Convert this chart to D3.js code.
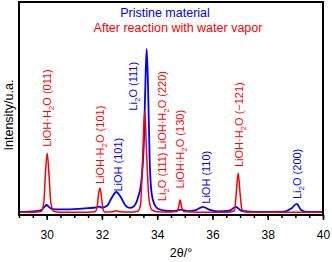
<!DOCTYPE html>
<html>
<head>
<meta charset="utf-8">
<script src="https://cdn.jsdelivr.net/npm/d3@7"></script>
<style>
  body { margin: 0; background: #fff; }
  text { font-family: "Liberation Sans", Arial, sans-serif; }
</style>
</head>
<body>
<div id="container"></div>
<script>
// 2theta / intensity (arbitrary units, 0..100 = plot height)
const redX = [29.0, 29.5, 29.8, 29.9, 29.95, 30.02, 30.09, 30.15, 30.25, 30.5, 31.0, 31.5, 31.75, 31.83, 31.88, 31.93, 31.98, 32.03, 32.1, 32.4, 32.52, 32.65, 33.0, 33.3, 33.4, 33.47, 33.55, 33.62, 33.7, 33.8, 34.0, 34.5, 34.72, 34.78, 34.83, 34.88, 34.95, 35.5, 36.5, 36.8, 36.86, 36.93, 37.0, 37.07, 37.2, 38.0, 39.0, 40.0];
const redY = [1.3, 1.3, 1.6, 6, 18, 29, 18, 6, 1.8, 1.3, 1.3, 1.3, 1.5, 4, 10, 12.7, 9, 3.5, 1.4, 1.5, 2.0, 1.5, 1.4, 1.8, 5, 25, 49, 28, 8, 2.5, 1.5, 1.4, 1.6, 4, 7, 4, 1.6, 1.3, 1.3, 2.0, 10, 19.7, 10, 2.5, 1.4, 1.3, 1.3, 1.3];

const blueX = [29.0, 29.5, 29.8, 29.92, 30.0, 30.08, 30.2, 30.5, 31.0, 31.5, 31.8, 31.9, 32.0, 32.2, 32.35, 32.52, 32.7, 32.85, 33.0, 33.15, 33.3, 33.42, 33.52, 33.58, 33.62, 33.67, 33.73, 33.8, 33.9, 34.05, 34.3, 34.6, 34.85, 35.1, 35.4, 35.65, 35.9, 36.2, 36.6, 36.85, 37.05, 37.5, 38.0, 38.6, 38.85, 39.05, 39.2, 39.4, 40.0];
const blueY = [1.4, 1.7, 2.3, 3.8, 4.7, 3.8, 2.8, 2.6, 2.8, 3.2, 3.6, 3.9, 3.5, 4.5, 8, 10.8, 8, 4.5, 3.3, 4, 8, 15, 35, 65, 78, 60, 25, 10, 5, 2.8, 2.0, 1.8, 2.5, 1.8, 2.3, 3.8, 2.4, 1.7, 2.0, 3.8, 2.0, 1.5, 1.4, 1.6, 3, 5.2, 2.5, 1.5, 1.4];

const xTicks = [30, 32, 34, 36, 38, 40];

// peak labels: [position, top of text (intensity), colour, parts]  parts: [text, isSubscript]
const peakLabels = [
  { x: 30.02, y: 32, c: "red", parts: [["LiOH·H", 0], ["2", 1], ["O (011)", 0]] },
  { x: 31.93, y: 14.5, c: "red", parts: [["LiOH·H", 0], ["2", 1], ["O (101)", 0]] },
  { x: 32.58, y: 11, c: "blue", parts: [["LiOH (101)", 0]] },
  { x: 33.12, y: 49, c: "blue", parts: [["Li", 0], ["2", 1], ["O (111)", 0]] },
  { x: 34.18, y: 6.5, c: "red", parts: [["Li", 0], ["2", 1], ["O (111) LiOH·H", 0], ["2", 1], ["O (220)", 0]] },
  { x: 34.83, y: 12.5, c: "red", parts: [["LiOH·H", 0], ["2", 1], ["O (130)", 0]] },
  { x: 35.75, y: 5.3, c: "blue", parts: [["LiOH (110)", 0]] },
  { x: 36.95, y: 22.5, c: "red", parts: [["LiOH·H", 0], ["2", 1], ["O (\u2212121)", 0]] },
  { x: 39.05, y: 7.5, c: "blue", parts: [["Li", 0], ["2", 1], ["O (200)", 0]] }
];

const width = 332, height = 262;
const margin = { top: 2, right: 9, bottom: 47, left: 19 };

const svg = d3.select("#container")
  .append("svg")
  .attr("width", width)
  .attr("height", height);

const xScale = d3.scaleLinear().domain([29, 40]).range([margin.left, width - margin.right]);
const yScale = d3.scaleLinear().domain([0, 100]).range([height - margin.bottom, margin.top]);

// minor ticks every 0.5
svg.append("g")
  .attr("transform", `translate(0, ${height - margin.bottom})`)
  .call(d3.axisBottom(xScale).tickValues(d3.range(29, 40.01, 0.5)).tickSize(3).tickFormat(""))
  .call(g => g.select(".domain").remove())
  .call(g => g.selectAll("line").attr("stroke-width", 1.5));

// major ticks + labels
svg.append("g")
  .attr("transform", `translate(0, ${height - margin.bottom})`)
  .call(d3.axisBottom(xScale).tickValues(xTicks).tickSize(5).tickPadding(10))
  .call(g => g.select(".domain").remove())
  .call(g => g.selectAll("line").attr("stroke-width", 1.5))
  .call(g => g.selectAll("text").style("font-size", "12px").style("font-family", "Liberation Sans, Arial, sans-serif"));

const line = d3.line()
  .x(d => xScale(d[0]))
  .y(d => yScale(d[1]))
  .curve(d3.curveMonotoneX);

const clip = svg.append("clipPath").attr("id", "plotclip")
  .append("rect")
  .attr("x", margin.left).attr("y", margin.top)
  .attr("width", width - margin.left - margin.right)
  .attr("height", height - margin.top - margin.bottom);

const plot = svg.append("g").attr("clip-path", "url(#plotclip)");

plot.append("path")
  .datum(d3.zip(blueX, blueY))
  .attr("fill", "none")
  .attr("stroke", "#0000ff")
  .attr("stroke-width", 1.8)
  .attr("d", line);

plot.append("path")
  .datum(d3.zip(redX, redY))
  .attr("fill", "none")
  .attr("stroke", "#ff0000")
  .attr("stroke-width", 1.5)
  .attr("d", line);

// frame
svg.append("rect")
  .attr("x", margin.left)
  .attr("y", margin.top)
  .attr("width", width - margin.left - margin.right)
  .attr("height", height - margin.top - margin.bottom)
  .attr("fill", "none")
  .attr("stroke", "#000")
  .attr("stroke-width", 2);

// rotated peak labels: text starts just above the peak and runs upward
peakLabels.forEach(lab => {
  const px = xScale(lab.x) + 4, py = yScale(lab.y);
  const t = svg.append("text")
    .attr("transform", `translate(${px}, ${py}) rotate(-90)`)
    .attr("fill", lab.c)
    .style("font-size", "11px");
  lab.parts.forEach(p => {
    if (p[1]) {
      t.append("tspan").attr("dy", 3).style("font-size", "8px").text(p[0]);
    } else {
      const prevSub = t.selectAll("tspan").size() > 0 && lab.parts[lab.parts.indexOf(p) - 1][1];
      t.append("tspan").attr("dy", prevSub ? -3 : 0).text(p[0]);
    }
  });
});

// legend texts
svg.append("text")
  .attr("x", 165).attr("y", 17)
  .attr("text-anchor", "middle")
  .attr("fill", "#0000ff")
  .style("font-size", "12.5px")
  .text("Pristine material");

svg.append("text")
  .attr("x", 178).attr("y", 32)
  .attr("text-anchor", "middle")
  .attr("fill", "#ff0000")
  .style("font-size", "12.5px")
  .text("After reaction with water vapor");

// axis titles
svg.append("text")
  .attr("transform", `translate(13, 115) rotate(-90)`)
  .attr("text-anchor", "middle")
  .style("font-size", "12.5px")
  .text("Intensity/u.a.");

svg.append("text")
  .attr("x", 181).attr("y", 257)
  .attr("text-anchor", "middle")
  .style("font-size", "12.5px")
  .text("2θ/°");
</script>
</body>
</html>
